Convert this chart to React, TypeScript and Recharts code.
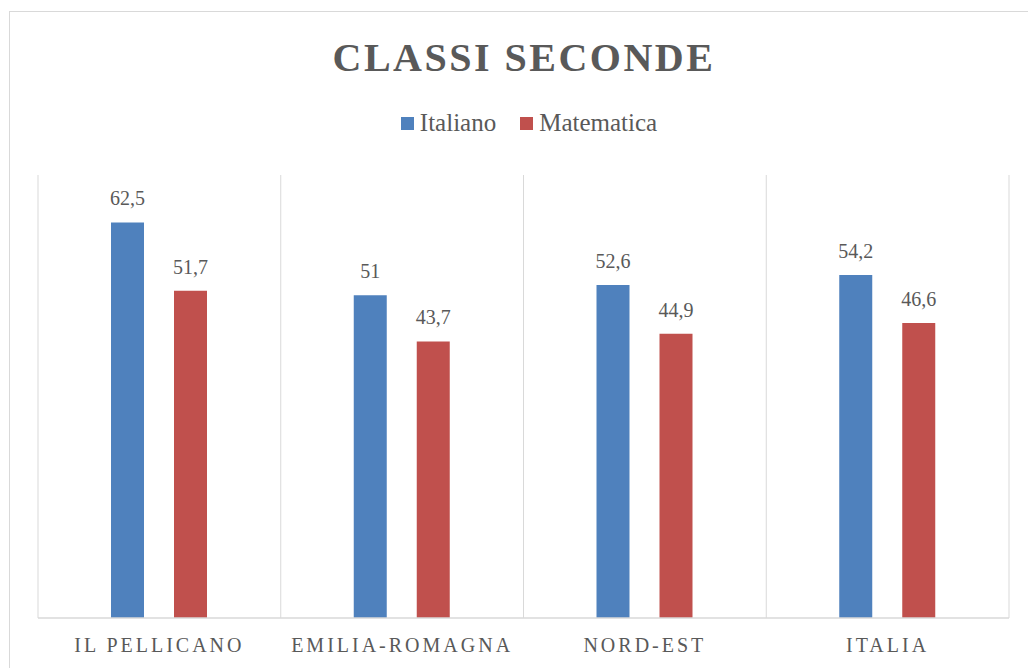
import React from 'react';
import { BarChart, Bar, XAxis, YAxis, CartesianGrid, LabelList } from 'recharts';

const categories = ['IL PELLICANO', 'EMILIA-ROMAGNA', 'NORD-EST', 'ITALIA'];
const italiano = [62.5, 51, 52.6, 54.2];
const matematica = [51.7, 43.7, 44.9, 46.6];
const seriesNames = ['Italiano', 'Matematica'];
const seriesColors = ['#4F81BD', '#C0504D'];
const yDomain = [0, 70];

const data = categories.map((name, i) => ({
  name,
  italiano: italiano[i],
  matematica: matematica[i],
}));

const textColor = '#595959';
const lineColor = '#D9D9D9';
const serif = '"Liberation Serif", "DejaVu Serif", serif';

const formatValue = (v: number) => String(v).replace('.', ',');

const CategoryTick = (props: any) => {
  const { x, y, payload } = props;
  return (
    <text
      x={x}
      y={y + 34}
      textAnchor="middle"
      fill={textColor}
      fontSize={20}
      fontFamily={serif}
      letterSpacing={3}
    >
      {payload.value}
    </text>
  );
};

export default function App() {
  return (
    <div
      style={{
        position: 'absolute',
        left: 9,
        top: 11,
        width: 1019,
        height: 657,
        borderTop: `1px solid ${lineColor}`,
        borderLeft: `1px solid ${lineColor}`,
        boxSizing: 'border-box',
        overflow: 'hidden',
        background: '#fff',
      }}
    >
      <div
        style={{
          position: 'absolute',
          left: 0,
          top: 21,
          width: 1028,
          textAlign: 'center',
          fontFamily: serif,
          fontWeight: 'bold',
          fontSize: 40,
          letterSpacing: 2.5,
          color: textColor,
          lineHeight: '50px',
        }}
      >
        CLASSI SECONDE
      </div>
      <div
        style={{
          position: 'absolute',
          left: 0,
          top: 96,
          width: 1038,
          display: 'flex',
          justifyContent: 'center',
          gap: 24,
          fontFamily: serif,
          fontSize: 25,
          color: textColor,
          lineHeight: '30px',
        }}
      >
        {seriesNames.map((n, i) => (
          <div key={n} style={{ display: 'flex', alignItems: 'center' }}>
            <span
              style={{
                display: 'inline-block',
                width: 13,
                height: 13,
                background: seriesColors[i],
                marginRight: 6,
              }}
            />
            {n}
          </div>
        ))}
      </div>
      <BarChart
        width={1018}
        height={656}
        data={data}
        margin={{ top: 163, right: 19, left: 28, bottom: 0 }}
        barSize={33}
        barGap={30}
      >
        <CartesianGrid
          horizontal={false}
          stroke={lineColor}
          verticalCoordinatesGenerator={({ offset }: any) =>
            categories
              .concat([''])
              .map((_, i) => offset.left + (i * offset.width) / categories.length)
          }
        />
        <XAxis
          dataKey="name"
          height={50}
          tickLine={false}
          tickSize={0}
          tickMargin={0}
          axisLine={{ stroke: lineColor, strokeWidth: 1.5 }}
          tick={<CategoryTick />}
          interval={0}
        />
        <YAxis hide domain={yDomain} />
        <Bar dataKey="italiano" fill={seriesColors[0]} isAnimationActive={false}>
          <LabelList
            dataKey="italiano"
            position="top"
            offset={17}
            formatter={(v: any) => formatValue(v)}
            fill={textColor}
            fontSize={20}
            fontFamily={serif}
          />
        </Bar>
        <Bar dataKey="matematica" fill={seriesColors[1]} isAnimationActive={false}>
          <LabelList
            dataKey="matematica"
            position="top"
            offset={17}
            formatter={(v: any) => formatValue(v)}
            fill={textColor}
            fontSize={20}
            fontFamily={serif}
          />
        </Bar>
      </BarChart>
    </div>
  );
}
